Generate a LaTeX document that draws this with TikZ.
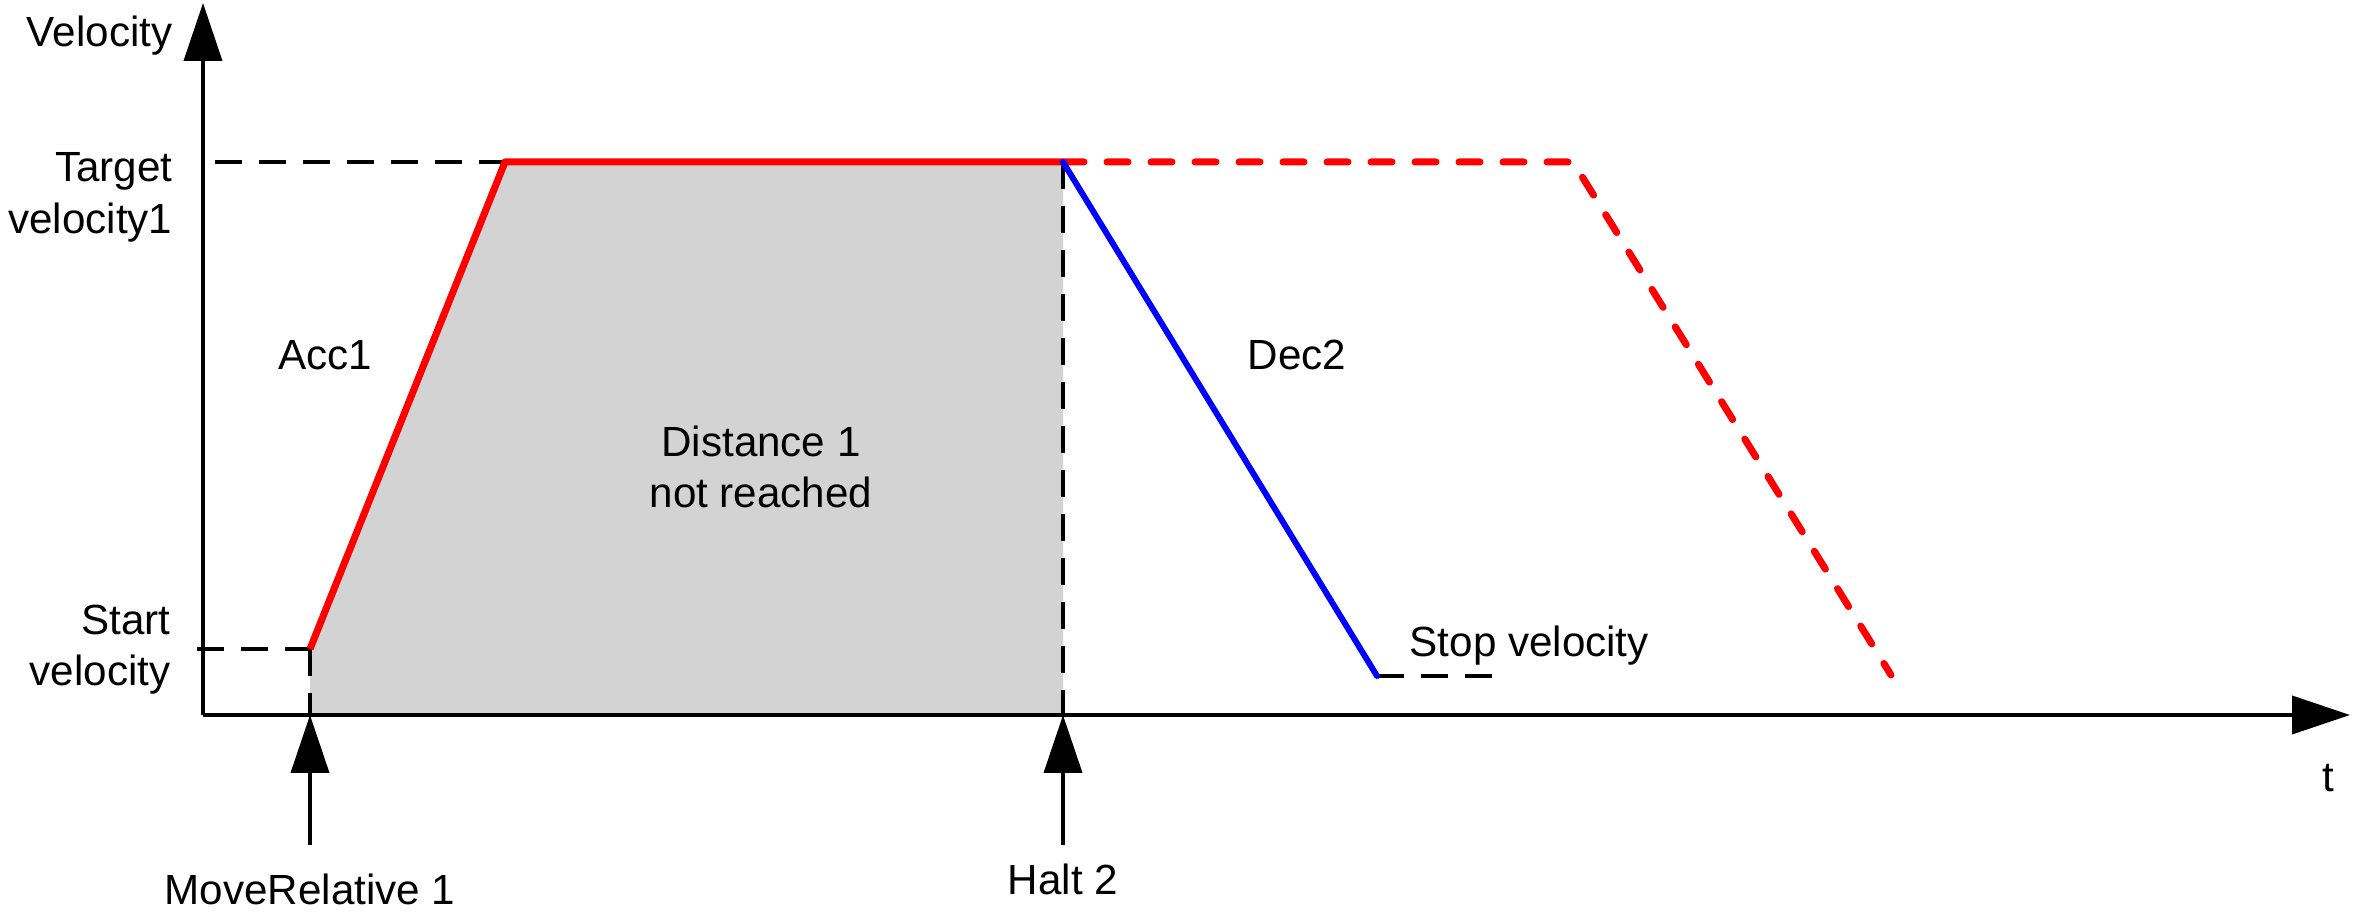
\documentclass[tikz,border=0pt]{standalone}
\usepackage{fontspec}
\setmainfont{Liberation Sans}
\usepackage{xcolor}
\usepackage{tikz}
\usetikzlibrary{calc, positioning, arrows.meta}
\definecolor{areagray}{RGB}{211,211,211}

\begin{document}
\begin{tikzpicture}[every node/.style={font=\fontsize{12}{14.8}\selectfont, inner sep=0pt},
    axis/.style={line width=1.1pt, -{Triangle[length=0.58cm,width=0.38cm]}},
    guide/.style={line width=1.1pt, dash pattern=on 0.27cm off 0.17cm},
    accline/.style={red, line width=2pt, line join=round},
    decline/.style={blue, line width=1.7pt, line cap=round},
    planned/.style={red, line width=2pt, line cap=round, line join=round, dash pattern=on 0.21cm off 0.23cm}]
    \useasboundingbox (-2.03,-2.04) rectangle (21.50,7.15);
    % Corner points of the profile
    \coordinate (O) at (0,0);
    \coordinate (S) at (1.07,0.66);
    \coordinate (A) at (3.02,5.53);
    \coordinate (H) at (8.60,5.53);
    \coordinate (B) at (11.74,0.39);
    \coordinate (Bend) at (12.93,0.39);
    \coordinate (P) at (13.70,5.53);
    \coordinate (Pend) at (16.88,0.40);
    \coordinate (ytip) at (0,7.12);
    \coordinate (xtip) at (21.47,0);
    \coordinate (tvstart) at (0.12,5.53);
    \coordinate (svstart) at (-0.06,0.66);
    \coordinate (mrfoot) at (1.07,-1.30);
    \coordinate (hfoot) at (8.60,-1.30);

    % Distance covered
    \fill[areagray] (S) -- (A) -- (H) -- (H |- O) -- (S |- O) -- cycle;

    % Guide lines
    \draw[guide] (tvstart) -- (A);
    \draw[guide] (svstart) -- (S);
    \draw[guide] (S) -- (S |- O);
    \draw[guide] (H) -- (H |- O);
    \draw[guide] (B) -- (Bend);

    % Axes
    \draw[axis] (O) -- (ytip);
    \draw[axis] (O) -- (xtip);

    % Velocity profile
    \draw[planned] (H) -- (P) -- (Pend);
    \draw[accline] (S) -- (A) -- (H);
    \draw[decline] (H) -- (B);

    % Command arrows
    \draw[axis] (mrfoot) -- (S |- O);
    \draw[axis] (hfoot) -- (H |- O);

    % Labels
    \node[anchor=base east] (vel) at (-0.30,6.68) {Velocity};
    \node[anchor=base east] (tgt1) at (-0.30,5.33) {Target};
    \node[anchor=base east] (tgt2) at (-0.30,4.81) {velocity1};
    \node[anchor=base east] (st1) at (-0.32,0.80) {Start};
    \node[anchor=base east] (st2) at (-0.32,0.29) {velocity};
    \node[anchor=base] (acc) at (1.22,3.45) {Acc1};
    \node[anchor=base] (dec) at (10.94,3.45) {Dec2};
    \node[anchor=base] (dist1) at (5.58,2.58) {Distance 1};
    \node[anchor=base] (dist2) at (5.58,2.07) {not reached};
    \node[anchor=base west] (stop) at (12.06,0.58) {Stop velocity};
    \node[anchor=base] (tlab) at (21.25,-0.77) {t};
    \node[anchor=base] (mr) at (1.07,-1.90) {MoveRelative 1};
    \node[anchor=base] (halt) at (8.60,-1.80) {Halt 2};
\end{tikzpicture}
\end{document}
